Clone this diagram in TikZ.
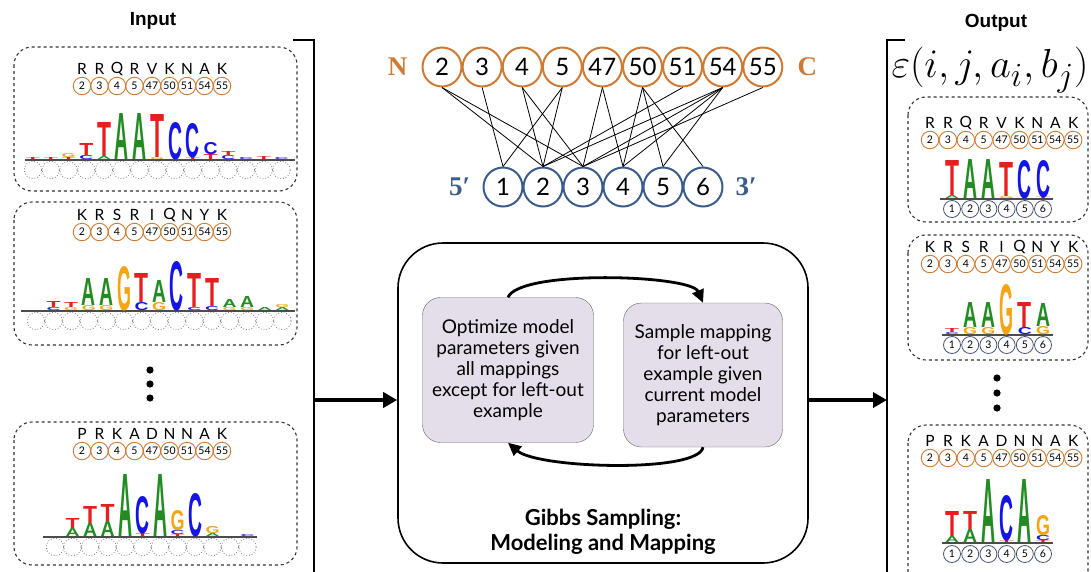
\documentclass[tikz,border=0pt]{standalone}
\usepackage{fontspec}
\usepackage{graphicx}
\setmainfont{Lato}
\newfontfamily\headfont{Liberation Sans}
\newfontfamily\termfont{Liberation Serif}
\newfontfamily\logofont{Liberation Sans}
\usetikzlibrary{arrows.meta,positioning,calc}

\definecolor{resorange}{RGB}{204,122,52}
\definecolor{baseblue}{RGB}{58,92,140}
\definecolor{posgray}{RGB}{70,82,110}
\definecolor{ntA}{RGB}{34,139,34}
\definecolor{ntC}{RGB}{20,20,230}
\definecolor{ntG}{RGB}{245,165,20}
\definecolor{ntT}{RGB}{230,30,30}
\definecolor{boxfill}{RGB}{228,222,234}

% residue row: name, x of first circle, spacing, y of circles, residues
\newcommand{\resrow}[5]{
  \foreach \n [count=\k] in {2,3,4,5,47,50,51,54,55}
    \node[res] (#1\k) at ({#2+(\k-1)*#3},#4) {\n};
  \foreach \r [count=\k] in {#5}
    \node[aa] (#1aa\k) at ({#2+(\k-1)*#3},{#4-17}) {\r};
}

% sequence logo: name, x of first column, spacing, baseline, col/bottom/height/letter
\newcommand{\seqlogo}[5]{
  \foreach \col/\bot/\hgt/\nb [count=\k] in {#5}
    \node[nt, text=nt\nb] (#1\k) at ({#2+(\col-1)*#3},{#4-\bot})
      {\resizebox{14pt}{\hgt pt}{\raisebox{0pt}[\height][0pt]{\nb}}};
}

\begin{document}
\begin{tikzpicture}[x=1pt, y=-1pt,
    res/.style={circle, draw=resorange, line width=0.9, minimum size=17.5, inner sep=0, font=\fontsize{10.5}{10.5}\selectfont},
    aa/.style={inner sep=0, font=\fontsize{15.5}{15.5}\selectfont},
    pnode/.style={circle, draw=resorange, line width=2, minimum size=39, inner sep=0, font=\fontsize{24}{24}\selectfont},
    dnode/.style={circle, draw=baseblue, line width=2, minimum size=39, inner sep=0, font=\fontsize{24}{24}\selectfont},
    posn/.style={circle, draw=posgray, line width=0.8, minimum size=17, inner sep=0, font=\fontsize{10.5}{10.5}\selectfont},
    term/.style={inner sep=0, font=\termfont\bfseries\fontsize{27}{27}\selectfont},
    nt/.style={anchor=south, inner sep=0, font=\logofont\bfseries},
    head/.style={font=\headfont\bfseries\fontsize{19}{19}\selectfont},
    panel/.style={draw=black!80, dashed, line width=1.1, rounded corners=18},
    ghost/.style={draw=gray, dotted, line width=0.8},
    stage/.style={draw=black!60, fill=boxfill, rounded corners=18, align=center, font=\fontsize{19}{21}\selectfont},
    flow/.style={line width=2.8, -{Triangle[length=13pt,width=12pt]}},
    bigarrow/.style={line width=4, -{Triangle[length=14pt,width=15pt]}},
    edge/.style={line width=0.8}]
\useasboundingbox (0,0) rectangle (1091,571);

% Input
\node[head] (input) at (153,21) {Input};
\draw[line width=2] (293,40) -- (314,40) -- (314,575);
\coordinate (inbr) at (314,400);

\draw[panel] (14,47) rectangle (297,191);
\resrow{ia}{82}{17.5}{86}{R,R,Q,R,V,K,N,A,K}
\draw[gray!60!black, line width=1.2] (25,160) -- (295,160);
\foreach \i in {0,...,14} \draw[ghost] ({33+\i*17.75},170) circle (8.7);
\seqlogo{ila}{33}{17.75}{160}{1/0/2/T,2/0/2/T,3/0/2/T,3/2/4/G,4/0/4/C,4/4/12/T,5/0/3/A,5/3/34/T,6/0/46/A,7/0/46/A,8/0/2/G,8/2/43/T,9/0/37/C,10/0/2/T,10/2/34/C,11/0/5/T,11/5/12/C,12/0/4/C,12/4/4/T,13/0/2/C,14/0/3/T,15/0/2/C}

\draw[panel] (14,202) rectangle (297,345);
\resrow{ib}{82}{17.5}{232}{K,R,S,R,I,Q,N,Y,K}
\draw[gray!60!black, line width=1.2] (21,311) -- (295,311);
\foreach \i in {0,...,14} \draw[ghost] ({36+\i*17.6},321) circle (8.7);
\seqlogo{ilb}{36}{17.6}{311}{2/0/3/C,2/3/6/T,3/0/3/G,3/3/5/T,4/0/5/G,4/5/27/A,5/0/5/G,5/5/27/A,6/0/44/G,7/0/8/C,7/8/29/T,8/0/8/G,8/8/22/A,9/0/49/C,10/0/3/C,10/3/34/T,11/0/4/C,11/4/28/T,12/0/3/G,12/3/8/A,13/0/3/G,13/3/11/A,14/0/3/A,15/0/3/A,15/3/3/G}

\foreach \y in {370,384,398} \fill (150,\y) circle (3.6);

\draw[panel] (14,422) rectangle (297,565);
\resrow{ic}{82}{17.5}{451}{P,R,K,A,D,N,N,A,K}
\draw[gray!60!black, line width=1.2] (43,537) -- (257,537);
\foreach \i in {0,...,11} \draw[ghost] ({55+\i*17.5},547) circle (8.7);
\seqlogo{ilc}{55}{17.5}{537}{2/0/8/A,2/8/10/T,3/0/13/A,3/13/17/T,4/0/15/A,4/15/17/T,5/0/62/A,6/0/3/T,6/3/37/C,7/0/62/A,8/0/2/T,8/2/4/C,8/6/20/G,9/0/43/C,10/0/3/A,10/3/7/G,12/0/2/C}

% Contact map
\foreach \n [count=\k] in {2,3,4,5,47,50,51,54,55}
  \node[pnode] (p\n) at ({442+(\k-1)*40.1},67) {\n};
\foreach \n in {1,...,6}
  \node[dnode] (d\n) at ({503+(\n-1)*40},187) {\n};
\node[term, text=resorange, left=14pt of p2] (nterm) {N};
\node[term, text=resorange, right=14pt of p55] (cterm) {C};
\node[term, text=baseblue, left=12pt of d1] (fiveend) {5′};
\node[term, text=baseblue, right=12pt of d6] (threeend) {3′};
\foreach \a/\b in {2/2,2/3,3/1,4/2,4/3,5/1,5/2,47/3,47/4,50/4,50/5,50/6,51/2,54/2,54/3,54/4,54/5,55/3}
  \draw[edge] (p\a.south) -- (d\b.north);

% Gibbs sampling
\node[draw, line width=1.6, rounded corners=45, minimum width=410, minimum height=320] (gibbs) at (603,403) {};
\node[stage, minimum width=171, minimum height=145] (optim) at (508,370) {Optimize model\\parameters given\\all mappings\\except for left-out\\example};
\node[stage, minimum width=159, minimum height=144] (sample) at (703,375) {Sample mapping\\for left-out\\example given\\current model\\parameters};
\draw[flow] (optim.north) .. controls +(12,-28) and +(-12,-28) .. (sample.north);
\draw[flow] (sample.south) .. controls +(-4,26) and +(30,26) .. (optim.south);
\node[align=center, font=\bfseries\fontsize{22}{25}\selectfont] (gtitle) at (603,532) {Gibbs Sampling:\\Modeling and Mapping};

\draw[bigarrow] (inbr) -- (gibbs.west |- inbr);
\coordinate (outbr) at (887,400);
\draw[bigarrow] (gibbs.east |- outbr) -- (outbr);

% Output
\node[head] (output) at (996,23) {Output};
\draw[line width=2] (905,40) -- (887,40) -- (887,575);
\node (energy) at (990,70) {\scalebox{1.63}{\fontsize{24.88}{25}\selectfont $\varepsilon(i,j,a_i,b_j)$}};

\draw[panel] (908,97) rectangle (1088,222);
\resrow{oa}{930}{17.9}{140}{R,R,Q,R,V,K,N,A,K}
\draw[gray!60!black, line width=1.2] (940,199) -- (1053,199);
\foreach \n in {1,...,6} \node[posn] (oap\n) at ({952+(\n-1)*18.2},209) {\n};
\seqlogo{ola}{952}{18.2}{199}{1/0/3/A,1/3/35/T,2/0/39/A,3/0/39/A,4/0/2/G,4/2/34/T,5/0/38/C,6/0/1.5/T,6/1.5/37/C}

\draw[panel] (908,235) rectangle (1088,360);
\resrow{ob}{930}{17.9}{264}{K,R,S,R,I,Q,N,Y,K}
\draw[gray!60!black, line width=1.2] (942,335) -- (1053,335);
\foreach \n in {1,...,6} \node[posn] (obp\n) at ({952+(\n-1)*18.2},345) {\n};
\seqlogo{olb}{952}{18.2}{335}{1/0/2/C,1/2/4/T,2/0/7/G,2/7/25/A,3/0/7/G,3/7/25/A,4/0/50/G,5/0/7/C,5/7/25/T,6/0/8/G,6/8/23/A}

\foreach \y in {378,393,408} \fill (997,\y) circle (3.6);

\draw[panel] (908,425) rectangle (1088,590);
\resrow{oc}{930}{17.9}{458}{P,R,K,A,D,N,N,A,K}
\draw[gray!60!black, line width=1.2] (942,543) -- (1053,543);
\foreach \n in {1,...,6} \node[posn] (ocp\n) at ({952+(\n-1)*18.2},554) {\n};
\seqlogo{olc}{952}{18.2}{543}{1/0/6/A,1/6/25/T,2/0/13/A,2/13/18/T,3/0/63/A,4/0/2/T,4/2/45/C,5/0/63/A,6/0/2/T,6/2/5/C,6/7/20/G}
\end{tikzpicture}
\end{document}
